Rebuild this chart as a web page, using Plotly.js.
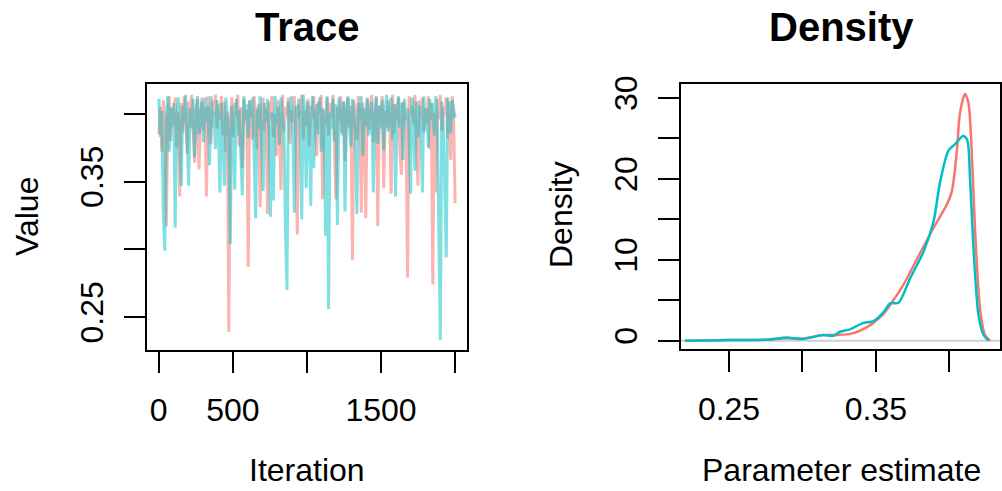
<!DOCTYPE html>
<html>
<head>
<meta charset="utf-8">
<script src="https://cdn.plot.ly/plotly-3.0.1.min.js"></script>
<style>html,body{margin:0;padding:0;background:#fff;}#chart{width:1002px;height:491px;}</style>
</head>
<body>
<div id="chart"></div>
<script>
// ---- Trace panel data (chain values, one value per ~10 iterations) ----
const chain1 = [
0.385,0.405,0.372,0.410,0.395,0.317,0.398,0.413,0.380,0.404,
0.392,0.412,0.375,0.401,0.339,0.408,0.386,0.413,0.396,0.371,
0.409,0.390,0.414,0.385,0.364,0.402,0.411,0.359,0.397,0.412,
0.388,0.405,0.339,0.413,0.393,0.378,0.410,0.400,0.414,0.389,
0.407,0.396,0.413,0.384,0.409,0.372,0.401,0.239,0.394,0.412,
0.383,0.408,0.398,0.414,0.376,0.405,0.360,0.411,0.392,0.403,
0.287,0.410,0.395,0.381,0.413,0.399,0.374,0.407,0.331,0.402,
0.412,0.388,0.404,0.326,0.409,0.396,0.413,0.383,0.400,0.369,
0.410,0.392,0.344,0.414,0.387,0.405,0.398,0.412,0.378,0.403,
0.394,0.413,0.385,0.311,0.407,0.399,0.414,0.381,0.402,0.391,
0.411,0.376,0.406,0.397,0.413,0.388,0.369,0.409,0.400,0.414,
0.337,0.403,0.392,0.412,0.384,0.408,0.398,0.414,0.373,0.337,
0.405,0.394,0.413,0.386,0.409,0.365,0.401,0.412,0.390,0.406,
0.292,0.410,0.397,0.381,0.413,0.403,0.327,0.408,0.395,0.323,
0.411,0.388,0.404,0.414,0.379,0.399,0.412,0.317,0.406,0.393,
0.413,0.345,0.402,0.390,0.410,0.397,0.341,0.414,0.385,0.407,
0.396,0.412,0.371,0.355,0.409,0.401,0.388,0.279,0.413,0.399,
0.406,0.392,0.414,0.380,0.347,0.410,0.398,0.412,0.386,0.404,
0.393,0.413,0.374,0.408,0.274,0.401,0.342,0.411,0.396,0.414,
0.387,0.405,0.399,0.412,0.382,0.409,0.366,0.413,0.395,0.334
];
const chain2 = [
0.411,0.383,0.402,0.328,0.299,0.395,0.413,0.372,0.405,0.390,
0.408,0.316,0.398,0.412,0.381,0.347,0.406,0.393,0.414,0.376,
0.347,0.404,0.389,0.411,0.368,0.400,0.413,0.385,0.397,0.409,
0.379,0.412,0.394,0.406,0.362,0.413,0.390,0.401,0.374,0.410,
0.396,0.342,0.408,0.387,0.347,0.412,0.399,0.383,0.304,0.406,
0.391,0.344,0.411,0.384,0.403,0.375,0.340,0.413,0.395,0.407,
0.382,0.410,0.397,0.412,0.367,0.323,0.404,0.389,0.413,0.378,
0.343,0.408,0.394,0.411,0.386,0.324,0.401,0.336,0.413,0.392,
0.405,0.377,0.412,0.398,0.388,0.316,0.270,0.409,0.394,0.413,
0.383,0.327,0.406,0.397,0.411,0.388,0.322,0.414,0.402,0.345,
0.409,0.391,0.332,0.413,0.360,0.399,0.407,0.385,0.412,0.372,
0.404,0.395,0.310,0.413,0.256,0.401,0.389,0.411,0.380,0.407,
0.318,0.412,0.396,0.384,0.409,0.328,0.403,0.413,0.390,0.376,
0.411,0.398,0.387,0.326,0.408,0.395,0.413,0.369,0.404,0.391,
0.412,0.384,0.400,0.409,0.342,0.396,0.413,0.378,0.406,0.389,
0.410,0.373,0.403,0.414,0.387,0.398,0.412,0.381,0.407,0.339,
0.401,0.413,0.390,0.408,0.366,0.411,0.395,0.404,0.386,0.341,
0.412,0.398,0.358,0.409,0.383,0.406,0.393,0.342,0.413,0.388,
0.404,0.375,0.411,0.396,0.408,0.384,0.413,0.400,0.287,0.233,
0.409,0.392,0.345,0.294,0.412,0.399,0.386,0.410,0.403,0.397
];
const totalIterations = 2000;

// ---- Density panel data ----
const densRedX = [0.220,0.235,0.250,0.265,0.278,0.289,0.300,0.314,0.323,0.334,0.346,0.3483,0.3551,0.3619,0.3687,0.380,0.3891,0.3982,0.4016,0.405,0.4073,0.4107,0.413,0.4153,0.4175,0.421,0.4243,0.4278];
const densRedY = [0,0.03,0.07,0.08,0.15,0.3,0.25,0.7,0.7,0.9,1.9,2.2,3.3,5.0,6.9,10.8,13.9,16.8,18.4,23.2,28.2,30.5,29.4,23.2,13.7,3.8,0.7,0];
const densCyanX = [0.220,0.235,0.250,0.265,0.278,0.289,0.300,0.314,0.3210,0.3256,0.3324,0.3415,0.3483,0.3551,0.3597,0.3654,0.3733,0.3824,0.3891,0.3937,0.3994,0.404,0.4092,0.412,0.4142,0.4165,0.4199,0.4233,0.4267];
const densCyanY = [0,0.03,0.07,0.08,0.15,0.4,0.2,0.7,0.6,1.1,1.4,2.2,2.4,3.5,4.6,4.7,7.7,11.0,14.6,19.6,23.5,24.3,25.3,24.9,19.6,11.3,3.1,0.7,0];

// ---- Axis ticks / labels ----
const traceXTicks = [0,500,1000,1500,2000];
const traceXLabels = ['0','500','','1500',''];
const traceYTicks = [0.25,0.30,0.35,0.40];
const traceYLabels = ['0.25','','0.35',''];
const densXTicks = [0.25,0.30,0.35,0.40];
const densXLabels = ['0.25','','0.35',''];
const densYTicks = [0,5,10,15,20,25,30];
const densYLabels = ['0','','10','','20','','30'];

const RED = '#F8766D', CYAN = '#00BFC4';
const W = 1002, H = 491;
const iterations = chain1.map((_, i) => 1 + Math.round(i * (totalIterations - 1) / (chain1.length - 1)));

const traces = [
  {x: iterations, y: chain1, type: 'scatter', mode: 'lines', xaxis: 'x', yaxis: 'y',
   line: {color: 'rgba(248,118,109,0.55)', width: 3}, hoverinfo: 'skip'},
  {x: iterations, y: chain2, type: 'scatter', mode: 'lines', xaxis: 'x', yaxis: 'y',
   line: {color: 'rgba(0,191,196,0.5)', width: 3}, hoverinfo: 'skip'},
  {x: densRedX, y: densRedY, type: 'scatter', mode: 'lines', xaxis: 'x2', yaxis: 'y2',
   line: {color: RED, width: 2.5, shape: 'spline', smoothing: 0.8}},
  {x: densCyanX, y: densCyanY, type: 'scatter', mode: 'lines', xaxis: 'x2', yaxis: 'y2',
   line: {color: CYAN, width: 2.5, shape: 'spline', smoothing: 0.8}}
];

const font = {family: 'Liberation Sans, Arial, sans-serif', size: 32, color: '#000'};
function ax(extra) {
  return Object.assign({
    showgrid: false, zeroline: false, showline: true, mirror: true,
    linecolor: '#000', linewidth: 2, ticks: 'outside', ticklen: 21, tickwidth: 2,
    tickcolor: '#000', tickmode: 'array', tickfont: font, fixedrange: true
  }, extra);
}
const px = v => v / W, py = v => 1 - v / H;

const layout = {
  width: W, height: H, showlegend: false,
  margin: {l: 0, r: 0, t: 0, b: 0, pad: 0},
  paper_bgcolor: '#fff', plot_bgcolor: '#fff', font: font,
  xaxis: ax({domain: [px(147), px(467)], range: [-79, 2080], tickvals: traceXTicks, ticktext: traceXLabels, anchor: 'y', ticklabelstandoff: 10}),
  yaxis: ax({domain: [py(350), py(84)], range: [0.2257, 0.422], tickvals: traceYTicks, ticktext: traceYLabels, tickangle: -90, anchor: 'x', ticklabelstandoff: 8}),
  xaxis2: ax({domain: [px(681), px(1000)], range: [0.2173, 0.4345], tickvals: densXTicks, ticktext: densXLabels, anchor: 'y2', ticklabelstandoff: 10}),
  yaxis2: ax({domain: [py(349), py(84)], range: [-1.03, 31.73], tickvals: densYTicks, ticktext: densYLabels, tickangle: -90, anchor: 'x2', ticklabelstandoff: 8}),
  shapes: [
    {type: 'line', xref: 'x2 domain', x0: 0, x1: 1, yref: 'y2', y0: 0, y1: 0, layer: 'below',
     line: {color: '#cfcfcf', width: 2}}
  ],
  annotations: [
    {text: 'Trace', xref: 'paper', yref: 'paper', x: px(307), y: py(27), showarrow: false,
     xanchor: 'center', yanchor: 'middle', font: {family: 'Liberation Sans, Arial, sans-serif', size: 40, color: '#000', weight: 'bold'}},
    {text: 'Density', xref: 'paper', yref: 'paper', x: px(841), y: py(27), showarrow: false,
     xanchor: 'center', yanchor: 'middle', font: {family: 'Liberation Sans, Arial, sans-serif', size: 40, color: '#000', weight: 'bold'}},
    {text: 'Iteration', xref: 'paper', yref: 'paper', x: px(307), y: py(470), showarrow: false,
     xanchor: 'center', yanchor: 'middle', font: font},
    {text: 'Parameter estimate', xref: 'paper', yref: 'paper', x: px(841), y: py(470), showarrow: false,
     xanchor: 'center', yanchor: 'middle', font: font},
    {text: 'Value', xref: 'paper', yref: 'paper', x: px(27), y: py(217), showarrow: false, textangle: -90,
     xanchor: 'center', yanchor: 'middle', font: font},
    {text: 'Density', xref: 'paper', yref: 'paper', x: px(561), y: py(215), showarrow: false, textangle: -90,
     xanchor: 'center', yanchor: 'middle', font: font}
  ]
};

Plotly.newPlot('chart', traces, layout, {staticPlot: true, displayModeBar: false});
</script>
</body>
</html>
